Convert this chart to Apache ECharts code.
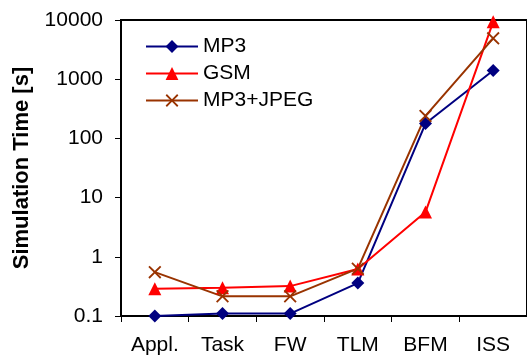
<!DOCTYPE html>
<html>
<head>
<meta charset="utf-8">
<script src="https://cdn.jsdelivr.net/npm/echarts@6/dist/echarts.min.js"></script>
<style>
  html, body { margin: 0; padding: 0; background: #fff; }
  #chart { width: 527px; height: 356px; }
</style>
</head>
<body>
<div id="chart"></div>
<script>
// data
const categories = ['Appl.', 'Task', 'FW', 'TLM', 'BFM', 'ISS']
const mp3 = [0.1, 0.11, 0.11, 0.36, 178, 1400]
const gsm = [0.29, 0.3, 0.32, 0.62, 5.7, 9300]
const mp3Jpeg = [0.55, 0.215, 0.215, 0.63, 240, 4900]
const yTicks = ['0.1', '1', '10', '100', '1000', '10000']

const font = 'Liberation Sans, Arial, sans-serif'
// filled X shape for the third series
const crossPath = 'path://M0,1L1,0L5,4L9,0L10,1L6,5L10,9L9,10L5,6L1,10L0,9L4,5Z'

const myChart = echarts.init(document.getElementById('chart'))
const option = {
  animation: false,
  backgroundColor: '#fff',
  textStyle: { fontFamily: font },
  legend: {
    orient: 'vertical',
    left: 140,
    top: 31,
    itemWidth: 52,
    itemHeight: 16,
    itemGap: 6,
    textStyle: { color: '#000', fontSize: 21, fontFamily: font },
    data: ['MP3', 'GSM', 'MP3+JPEG']
  },
  grid: {
    left: 121,
    top: 20,
    width: 412,
    height: 296,
    show: true,
    borderColor: '#000',
    borderWidth: 2
  },
  xAxis: {
    type: 'category',
    data: categories,
    boundaryGap: true,
    axisLine: { lineStyle: { color: '#000', width: 2 } },
    axisTick: { show: true, length: 6, lineStyle: { color: '#000', width: 1 } },
    axisLabel: { color: '#000', fontSize: 21, margin: 19, fontFamily: font }
  },
  yAxis: {
    type: 'log',
    logBase: 10,
    min: 0.1,
    max: 10000,
    name: 'Simulation Time [s]',
    nameLocation: 'middle',
    nameGap: 88,
    nameTextStyle: { color: '#000', fontSize: 22, fontWeight: 'bold', fontFamily: font },
    axisLine: { show: true, lineStyle: { color: '#000', width: 2 } },
    axisTick: { show: true, length: 6, lineStyle: { color: '#000', width: 1 } },
    splitLine: { show: false },
    minorTick: { show: false },
    axisLabel: {
      color: '#000',
      fontSize: 21,
      margin: 18,
      fontFamily: font,
      formatter: function(v) {
        return yTicks[Math.round(Math.log10(v)) + 1]
      }
    }
  },
  series: [
    {
      name: 'MP3',
      type: 'line',
      data: mp3,
      symbol: 'diamond',
      symbolSize: 13,
      color: '#000080',
      lineStyle: { color: '#000080', width: 2 },
      itemStyle: { color: '#000080' }
    },
    {
      name: 'GSM',
      type: 'line',
      data: gsm,
      symbol: 'triangle',
      symbolSize: 13,
      color: '#ff0000',
      lineStyle: { color: '#ff0000', width: 2 },
      itemStyle: { color: '#ff0000' }
    },
    {
      name: 'MP3+JPEG',
      type: 'line',
      data: mp3Jpeg,
      symbol: crossPath,
      symbolSize: 13,
      color: '#993300',
      lineStyle: { color: '#993300', width: 2 },
      itemStyle: { color: '#993300' }
    }
  ]
}
myChart.setOption(option)
</script>
</body>
</html>
